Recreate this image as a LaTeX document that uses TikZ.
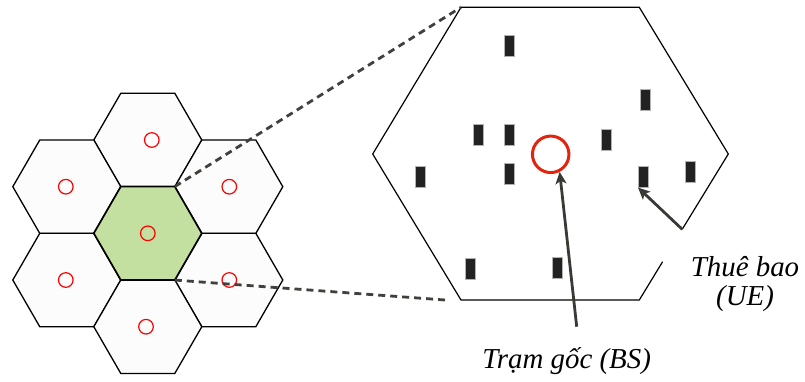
\documentclass[tikz,border=0pt]{standalone}
\usepackage{fontspec}
\setmainfont{Liberation Serif}
\usetikzlibrary{arrows.meta}

\begin{document}
\begin{tikzpicture}[x=1bp,y=-1bp,
    cell/.style={draw=black, line width=1.3bp, fill=white!99!black},
    site/.style={draw=red, line width=1.2bp},
    ue/.style={draw=gray!60, fill=uegray, line width=0.6bp, minimum width=10bp, minimum height=21bp, inner sep=0},
    zoomline/.style={draw=dashgray, line width=2.8bp, dash pattern=on 7bp off 5bp},
    pointer/.style={draw=arrowgray, line width=2.8bp, -{Stealth[length=12bp, width=11bp, inset=3bp]}},
    caption/.style={font=\fontsize{29}{30}\selectfont\itshape, inner sep=0, align=center}]
    % Define colors
    \definecolor{cellgreen}{RGB}{195,224,160}
    \definecolor{bsred}{RGB}{226,36,14}
    \definecolor{dashgray}{RGB}{64,64,60}
    \definecolor{arrowgray}{RGB}{58,58,52}
    \definecolor{uegray}{RGB}{34,34,34}

    \useasboundingbox (0,0) rectangle (805,381);

    % Six cells round the middle one
    \foreach \cx/\cy/\ox in {147.8/140/4, 66.8/186.7/-1, 228.8/186.7/0.5,
                             66.8/280/-1, 228.8/280/0.5, 147.8/326.7/-1.8}{
        \path[cell] (\cx,\cy) +(0:54) -- +(60:54) -- +(120:54) -- +(180:54)
            -- +(240:54) -- +(300:54) -- cycle;
        \draw[site] (\cx+\ox,\cy) circle (7.3bp);
    }

    % Middle cell, the one that is enlarged
    \path[cell, fill=cellgreen, line width=1.7bp] (147.8,233.3) +(0:54)
        -- +(60:54) coordinate (c-se) -- +(120:54) -- +(180:54)
        -- +(240:54) -- +(300:54) coordinate (c-ne) -- cycle;
    \draw[site] (147.8,233.3) circle (7.3bp);

    % Enlarged cell
    \coordinate (z-nw) at (461,7.3);
    \coordinate (z-ne) at (639.3,7.3);
    \coordinate (z-e) at (728.3,154);
    \coordinate (z-se) at (639.3,300);
    \coordinate (z-sw) at (461,300);
    \coordinate (z-w) at (372.7,154);
    \coordinate (gap-top) at (682.2,229.3);
    \coordinate (gap-bot) at (662.6,261.7);
    \draw[line width=1.2bp] (gap-bot) -- (z-se) -- (z-sw) -- (z-w) -- (z-nw)
        -- (z-ne) -- (z-e) -- (gap-top);

    % Zoom lines
    \coordinate (zoom-end) at (445,300);
    \draw[zoomline] (c-ne) -- (z-nw);
    \draw[zoomline] (c-se) -- (zoom-end);

    % Base station
    \node[circle, draw=bsred, line width=3bp, minimum size=36.5bp, inner sep=0] (bs) at (550.7,154.3) {};

    % Users
    \foreach \ux/\uy [count=\i] in {509/45.7, 645/99.3, 478/135, 509/135, 606.7/140,
                                   420.7/176.7, 509/173.3, 643.3/176.7, 690.7/171.7,
                                   470.7/268.3, 557/267.3}
        \node[ue] (ue\i) at (\ux,\uy) {};

    % Labels
    \node[caption] (ue-label) at (745,284) {Thuê bao\\(UE)};
    \node[caption, anchor=base] (bs-label) at (566.7,368.3) {Trạm gốc (BS)};

    \coordinate (bs-tail) at (576.7,326.7);
    \draw[pointer] (bs-tail) -- (bs.-63);
    \draw[pointer] (gap-top) -- (ue8.south west);
\end{tikzpicture}
\end{document}
